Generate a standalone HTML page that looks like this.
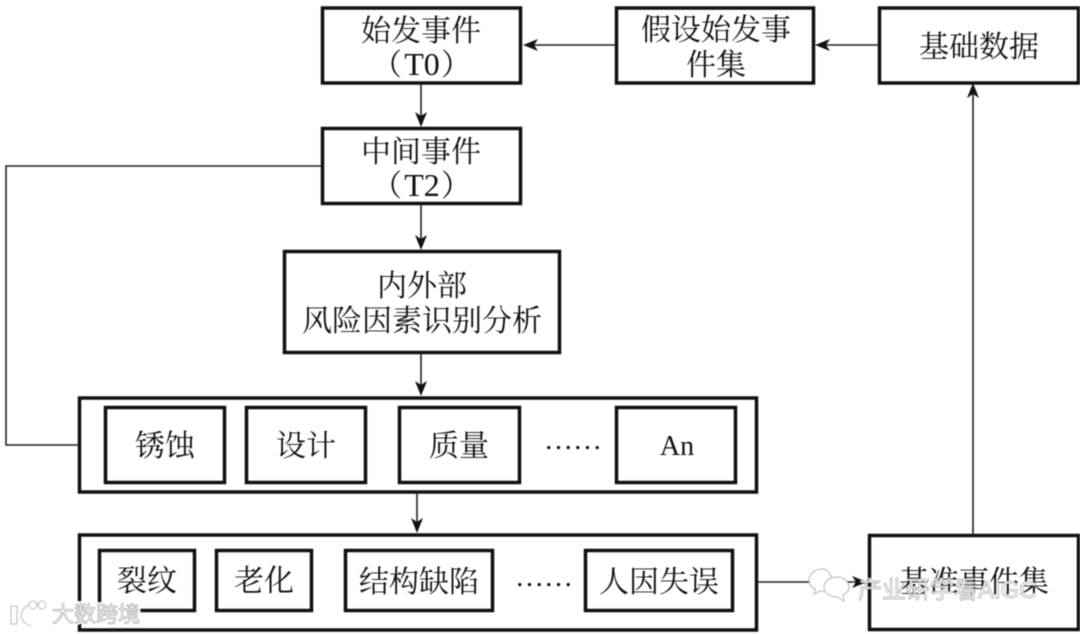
<!DOCTYPE html>
<html><head><meta charset="utf-8"><style>
html,body{margin:0;padding:0;background:#fff}
svg{display:block;filter:blur(.4px)}
.t{font-family:"Liberation Serif","Noto Serif CJK SC",serif;font-size:30px;fill:#111;text-anchor:middle}
.b{fill:none;stroke:#111;stroke-width:3.5}
.l{fill:none;stroke:#222;stroke-width:1.6}
.a{fill:#111}
.w{font-family:'Liberation Sans','Noto Sans CJK SC',sans-serif;fill:#fff;stroke:#aaa;stroke-width:.7}
.h{font-family:'Liberation Sans','Noto Sans CJK SC',sans-serif;fill:#fff;stroke:#fff;stroke-width:4}
</style></head><body>
<svg width="1080" height="634" viewBox="0 0 1080 634" xmlns="http://www.w3.org/2000/svg">
<rect width="1080" height="634" fill="#fff"/>
<rect class="b" x="322.5" y="8" width="198" height="75"/>
<rect class="b" x="616.5" y="8" width="197" height="75"/>
<rect class="b" x="879.5" y="8" width="199" height="75"/>
<rect class="b" x="322.5" y="128.5" width="198" height="75"/>
<rect class="b" x="284.5" y="251.5" width="275" height="101"/>
<rect class="b" x="79.5" y="398" width="677" height="94"/>
<rect class="b" x="105.5" y="407.5" width="119" height="75"/>
<rect class="b" x="246.5" y="407.5" width="119" height="75"/>
<rect class="b" x="399.5" y="407.5" width="120" height="75"/>
<rect class="b" x="616.5" y="407.5" width="119" height="75"/>
<rect class="b" x="79.5" y="535" width="677" height="95"/>
<rect class="b" x="99.5" y="550.5" width="95" height="60"/>
<rect class="b" x="216.5" y="550.5" width="95" height="60"/>
<rect class="b" x="345.5" y="550.5" width="147" height="60"/>
<rect class="b" x="585.5" y="550.5" width="147" height="60"/>
<rect class="b" x="869.5" y="535.5" width="209" height="94"/>

<path class="l" d="M616 45H525M879 45H817M421 83V124M421 204V247M421 353V393M417 492V531M322 166H6V445H79M757 582H868M973 535V85"/>
<path class="a" d="M523 45L538 39L534 45L538 51Z"/>
<path class="a" d="M815 45L830 39L826 45L830 51Z"/>
<path class="a" d="M421 127L415 112L421 116L427 112Z"/>
<path class="a" d="M421 250L415 235L421 239L427 235Z"/>
<path class="a" d="M421 396L415 381L421 385L427 381Z"/>
<path class="a" d="M417 533L411 518L417 522L423 518Z"/>
<path class="a" d="M867 582L852 576L856 582L852 588Z"/>
<path class="a" d="M973 83L967 98L973 94L979 98Z"/>

<text class="t" x="421" y="41">始发事件</text>
<text class="t" x="387" y="75">（</text><text class="t" x="422" y="75" style="font-size:32px">T0</text><text class="t" x="456" y="75">）</text>
<text class="t" x="716" y="40">假设始发事</text>
<text class="t" x="716" y="75">件集</text>
<text class="t" x="979" y="57">基础数据</text>
<text class="t" x="421" y="162">中间事件</text>
<text class="t" x="387" y="196">（</text><text class="t" x="422" y="196" style="font-size:32px">T2</text><text class="t" x="456" y="196">）</text>
<text class="t" x="422" y="296">内外部</text>
<text class="t" x="422" y="331">风险因素识别分析</text>
<text class="t" x="165" y="456">锈蚀</text>
<text class="t" x="306" y="456">设计</text>
<text class="t" x="459" y="456">质量</text>
<text class="t" x="573" y="449" style="font-size:29px">……</text>
<text class="t" x="677" y="455" style="font-size:28px">An</text>
<text class="t" x="147" y="591">裂纹</text>
<text class="t" x="264" y="591">老化</text>
<text class="t" x="419" y="592">结构缺陷</text>
<text class="t" x="544" y="586" style="font-size:29px">……</text>
<text class="t" x="659" y="592">人因失误</text>
<text class="t" x="974" y="592">基准事件集</text>

<g fill="#fff" stroke="#b5b5b5" stroke-width="1">
<path d="M823 569c-8 0-14 5-14 11 0 4 2 7 6 9l-1 5 6-3c2 0 4 1 6 0l6-12c-2-6-5-10-9-10z"/>
<path d="M837 577c-8 0-13 5-13 10s5 10 13 10l7 4-1-6c4-2 6-5 6-8 0-5-5-10-12-10z"/>
</g>
<text class="w" x="858" y="598" font-size="24">产业研学看AIGC</text>
<text class="h" x="52" y="622" font-size="22">大数跨境</text>
<text class="w" x="52" y="622" font-size="22">大数跨境</text>
<g fill="none" stroke="#fff" stroke-width="6"><path d="M14 606V624M30 606C20 610 20 620 30 623"/></g>
<g fill="none" stroke="#bbb" stroke-width="1"><path d="M11 606H17V624H11ZM30 604C18 610 18 622 31 626"/></g>
<circle cx="33" cy="605" r="4" fill="#fff" stroke="#bbb"/>
<circle cx="42" cy="605" r="4" fill="#fff" stroke="#bbb"/>
</svg>
</body></html>
